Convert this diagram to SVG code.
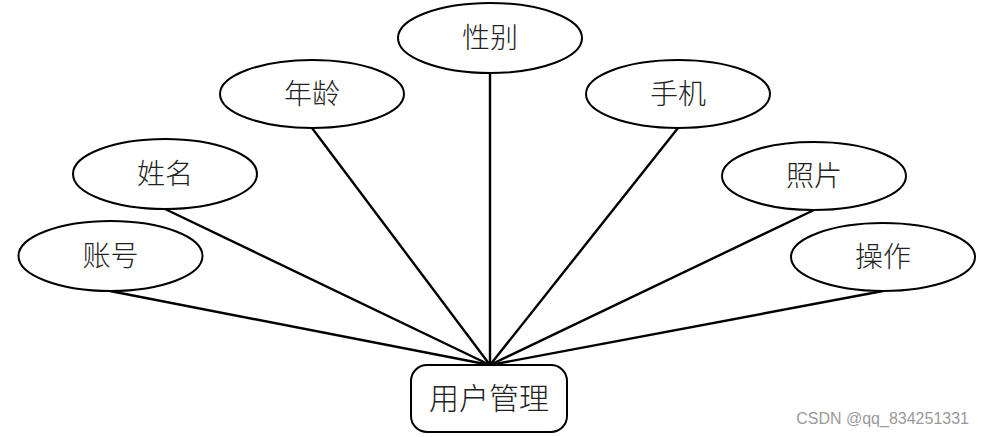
<svg xmlns="http://www.w3.org/2000/svg" width="984" height="437" viewBox="0 0 984 437">
<style>
.attr ellipse{fill:#fff;stroke:#000;stroke-width:2}
.lbl{font-family:"Liberation Serif","Noto Sans CJK SC",serif;font-size:28px;font-weight:300;fill:#222;text-anchor:middle;dominant-baseline:central}
#links line{stroke:#000;stroke-width:2.4}
</style>
<rect width="984" height="437" fill="#fff"/>
<g id="links">
<line x1="110" y1="291" x2="490" y2="365"/>
<line x1="165" y1="209" x2="490" y2="365"/>
<line x1="312" y1="128" x2="490" y2="365"/>
<line x1="490" y1="73" x2="490" y2="365"/>
<line x1="678" y1="128" x2="490" y2="365"/>
<line x1="814" y1="210" x2="490" y2="365"/>
<line x1="883" y1="291" x2="490" y2="365"/>
</g>
<g id="n-zhanghao" class="attr"><ellipse cx="110.5" cy="256" rx="92" ry="35"/><text class="lbl" x="110.5" y="256">账号</text></g>
<g id="n-xingming" class="attr"><ellipse cx="165" cy="174" rx="92" ry="35"/><text class="lbl" x="165" y="174">姓名</text></g>
<g id="n-nianling" class="attr"><ellipse cx="312" cy="94" rx="92" ry="34"/><text class="lbl" x="312" y="94">年龄</text></g>
<g id="n-xingbie" class="attr"><ellipse cx="490" cy="38" rx="92" ry="35"/><text class="lbl" x="490" y="38">性别</text></g>
<g id="n-shouji" class="attr"><ellipse cx="678" cy="94" rx="92" ry="34"/><text class="lbl" x="678" y="94">手机</text></g>
<g id="n-zhaopian" class="attr"><ellipse cx="814" cy="176" rx="92" ry="34"/><text class="lbl" x="814" y="176">照片</text></g>
<g id="n-caozuo" class="attr"><ellipse cx="883" cy="257" rx="92" ry="34"/><text class="lbl" x="883" y="257">操作</text></g>
<g id="n-user"><rect x="411" y="365" width="156" height="67" rx="16" fill="#fff" stroke="#000" stroke-width="2"/><text class="lbl" x="489" y="398" style="font-size:30px">用户管理</text></g>
<text x="969" y="424" font-family="Liberation Sans,sans-serif" font-size="16" fill="#999" text-anchor="end">CSDN @qq_834251331</text>
</svg>
